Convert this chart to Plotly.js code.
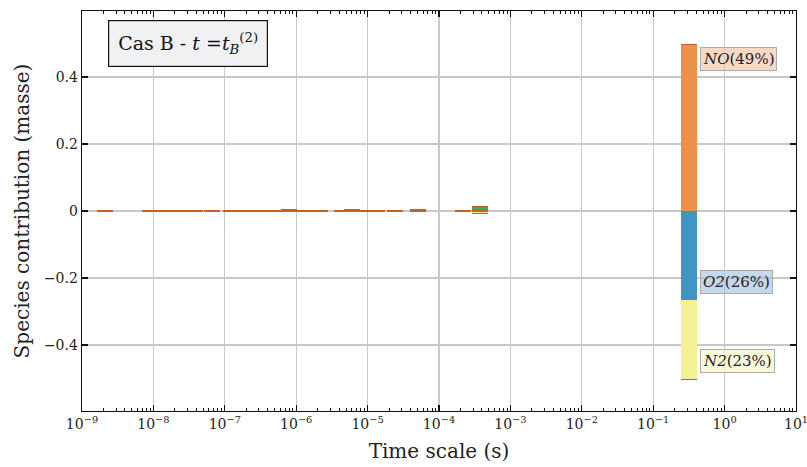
<!DOCTYPE html>
<html>
<head>
<meta charset="utf-8">
<script src="https://cdn.plot.ly/plotly-3.0.1.min.js"></script>
<style>html,body{margin:0;padding:0;background:#fff}#chart{width:807px;height:467px}</style>
</head>
<body>
<div id="chart"></div>
<script>
// Time scales (s) of each bar
var timeScales = [2.1e-9, 8.9e-9, 1.45e-8, 2.35e-8, 3.8e-8, 6.6e-8, 1.23e-7, 2.04e-7, 3.3e-7, 5.6e-7, 7.9e-7, 1.32e-6, 2.14e-6, 4.4e-6, 6.0e-6, 9.5e-6, 1.35e-5, 2.4e-5, 5.1e-5, 2.2e-4, 3.7e-4, 0.316];
// Species contributions (mass)
var greenEdge = [0,0,0,0,0,0,0,0,0,0,0,0,0,0,0,0,0,0,0,0,0,-0.003];
var NO        = [0.003,0.003,0.003,0.003,0.003,0.003,0.003,0.003,0.003,0.003,0.003,0.003,0.003,0.003,0.003,0.003,0.003,0.003,0.004,0.003,0.002,0.496];
var O2        = [0,0,0,0,0,0,0,0,0,0,0,0,0,0,0,0,0,0,0,0,0.004,-0.262];
var greenMid  = [0,0,0,0,0,0,0,0,0,0,0,0,0,0,0,0,0,0,0,0,0.007,0];
var N2        = [0,0,0,0,0,0,0,0,0,0,0,0,0,0,0,0,0,0,0,0,-0.004,-0.235];
var greenLow  = [0,0,0,0,0,0,0,0,0,0,0,0,0,0,0,0,0,0,0,0,-0.003,0];
var otherPos  = [0,0,0,0,0,0,0,0,0,0,0.002,0,0,0,0.002,0,0,0,0.002,0,0.002,0.003];
var otherNeg  = [-0.003,-0.003,-0.003,-0.003,-0.003,-0.003,-0.003,-0.003,-0.003,-0.003,-0.003,-0.003,-0.003,-0.003,-0.003,-0.003,-0.003,-0.003,-0.004,-0.003,-0.003,-0.004];
var labels = ["<i>NO</i>(49%)", "<i>O2</i>(26%)", "<i>N2</i>(23%)"];
var labelY = [0.454, -0.212, -0.448];
var xTickVals = [-9,-8,-7,-6,-5,-4,-3,-2,-1,0,1];
var xTickText = ["10<sup>−9</sup>","10<sup>−8</sup>","10<sup>−7</sup>","10<sup>−6</sup>","10<sup>−5</sup>","10<sup>−4</sup>","10<sup>−3</sup>","10<sup>−2</sup>","10<sup>−1</sup>","10<sup>0</sup>","10<sup>1</sup>"];
var yTickVals = [-0.4,-0.2,0,0.2,0.4];
var yTickText = ["−0.4","−0.2","0","0.2","0.4"];

var xs = timeScales.map(function(t){return Math.log10(t);});
var minor = [];
for (var d=-9; d<1; d++) for (var k=2; k<10; k++) minor.push(d+Math.log10(k));

var W = 0.224;
function bar(y, color, name){
  return {type:'bar', x: xs, y: y, width: W, name: name,
    marker:{color: color, line:{width:0}}, hoverinfo:'skip', showlegend:false};
}
var tinyNO = NO.map(function(v,i){return i===NO.length-1 ? '#ec914c' : '#c0632b';});
var data = [
  bar(greenEdge, '#3fa460', 'green'),
  bar(NO, tinyNO, 'NO'),
  bar(O2, '#4194c4', 'O2'),
  bar(greenMid, '#3fa460', 'green2'),
  bar(greenLow, '#3fa460', 'green3'),
  bar(N2, '#f3f096', 'N2'),
  bar(otherPos, '#b8622c', 'other+'),
  bar(otherNeg, '#c0632b', 'other-')
];

var serif = 'DejaVu Serif, serif';
var bgs = ['rgba(242,192,160,0.6)','rgba(160,190,220,0.6)','rgba(250,248,200,0.7)'];
var annotations = labels.map(function(t,i){
  return {x: -0.35, y: labelY[i], xref:'x', yref:'y', text: t, showarrow:false,
    xanchor:'left', yanchor:'middle', font:{family:serif, size:15, color:'#222'},
    bgcolor: bgs[i], bordercolor:'#aaaaaa', borderwidth:1, borderpad:2};
});
annotations.push({x:0.036, y:0.978, xref:'paper', yref:'paper', xanchor:'left', yanchor:'top',
  text:'Cas B - <i>t</i> =<i>t</i><sub><i>B</i></sub><sup>(2)</sup>', showarrow:false,
  font:{family:serif, size:19, color:'#111'}, bgcolor:'#f0f1f3', bordercolor:'#111', borderwidth:1.2, borderpad:9});

var layout = {
  width:807, height:467,
  margin:{l:82, r:11, t:11, b:56},
  paper_bgcolor:'#fff', plot_bgcolor:'#fff',
  barmode:'relative', bargap:0,
  font:{family:serif, color:'#222'},
  xaxis:{type:'linear', range:[-9,1], tickmode:'array', tickvals:xTickVals, ticktext:xTickText,
    ticklabeloverflow:'allow',
    showgrid:true, gridcolor:'#c8c8c8', gridwidth:1.2, zeroline:false,
    showline:true, linecolor:'#111', linewidth:1.3, mirror:'allticks',
    ticks:'inside', ticklen:6, tickcolor:'#111', tickwidth:1.2,
    minor:{tickmode:'array', tickvals:minor, ticks:'inside', ticklen:3, tickcolor:'#111', tickwidth:1, showgrid:false},
    tickfont:{family:serif, size:14, color:'#222'},
    title:{text:'Time scale (s)', font:{family:serif, size:20, color:'#222'}, standoff:13}},
  yaxis:{range:[-0.597,0.597], tickmode:'array', tickvals:yTickVals, ticktext:yTickText,
    showgrid:true, gridcolor:'#c8c8c8', gridwidth:1.2, zeroline:false,
    showline:true, linecolor:'#111', linewidth:1.3, mirror:'allticks',
    ticks:'inside', ticklen:6, tickcolor:'#111', tickwidth:1.2,
    tickfont:{family:serif, size:14, color:'#222'},
    title:{text:'Species contribution (masse)', font:{family:serif, size:20, color:'#222'}, standoff:9}},
  annotations: annotations
};
Plotly.newPlot('chart', data, layout, {displayModeBar:false, staticPlot:true});
</script>
</body>
</html>
